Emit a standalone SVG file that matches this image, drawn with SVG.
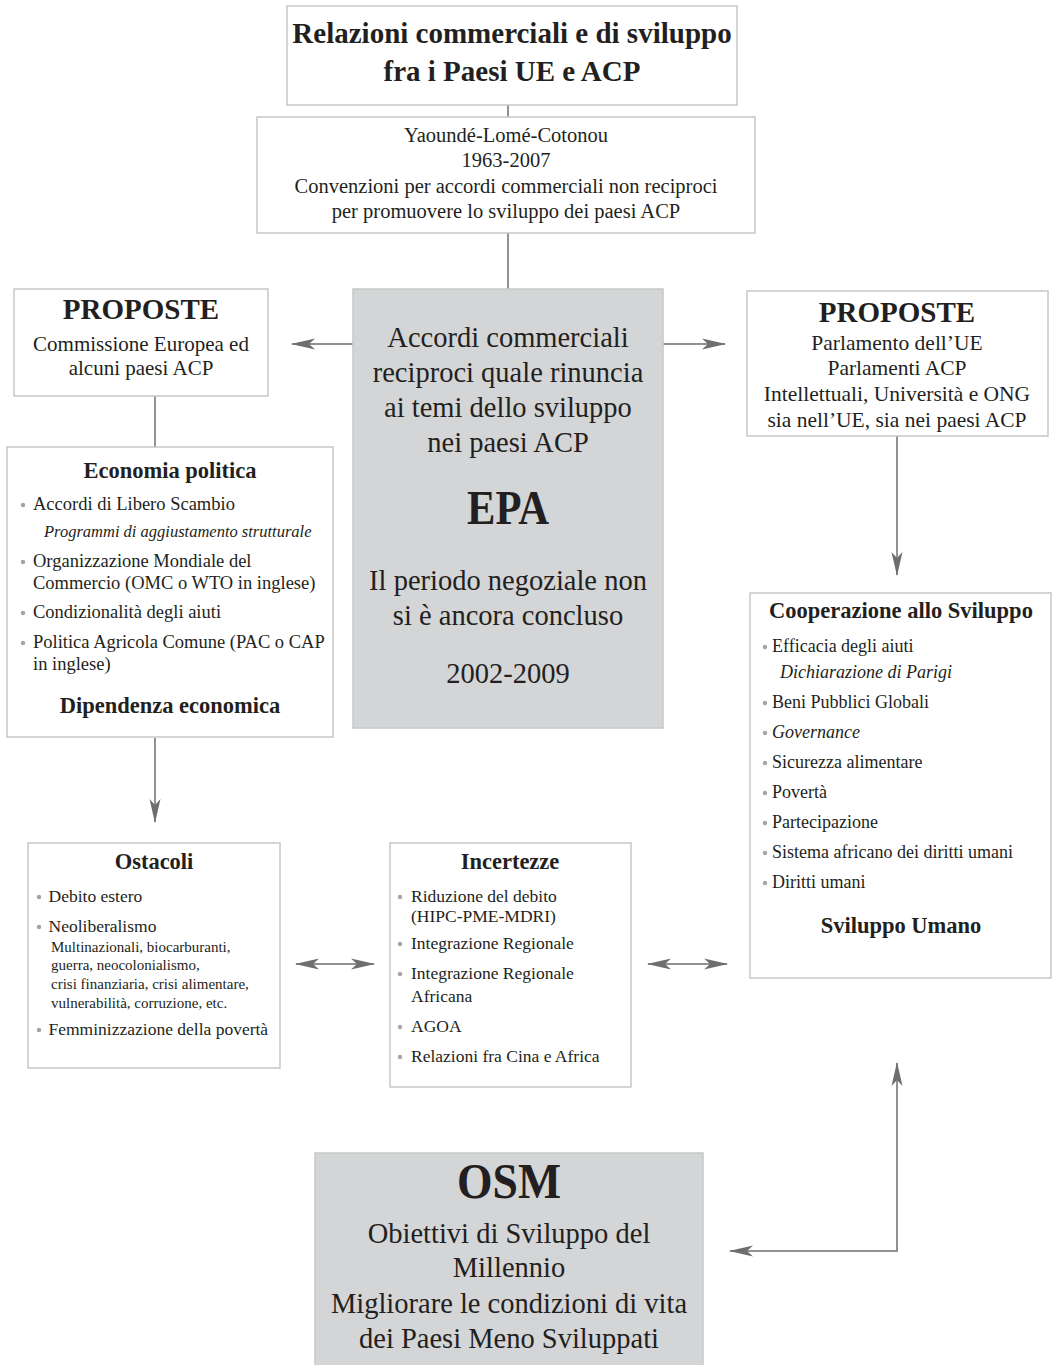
<svg xmlns="http://www.w3.org/2000/svg" width="1054" height="1365" viewBox="0 0 1054 1365">
<style>
text { font-family: "Liberation Serif", "Times New Roman", serif; fill: #231f20; }
.box { fill: #ffffff; stroke: #c6c7c8; stroke-width: 1.5; }
.gbox { fill: #d4d5d7; stroke: #c6c7c8; stroke-width: 1.5; }
.c { text-anchor: middle; }
.b { font-weight: bold; }
.i { font-style: italic; }
.t29 { font-size: 29px; }
.t28 { font-size: 28.5px; }
.t21 { font-size: 21px; }
.t21b { font-size: 21.5px; }
.t20 { font-size: 20.5px; }
.h { font-size: 22.5px; font-weight: bold; text-anchor: middle; }
.li { font-size: 18px; }
.le { font-size: 18.5px; }
.pi { font-size: 16.5px; font-style: italic; }
.li2 { font-size: 17.5px; }
.sm { font-size: 15px; }
.conn { stroke: #6d6e70; stroke-width: 1.5; fill: none; }
.dot { fill: #a3a4a6; }
</style>
<defs>
<marker id="ah" markerUnits="userSpaceOnUse" markerWidth="24" markerHeight="12" viewBox="0 0 24 12" refX="23" refY="6" orient="auto-start-reverse">
<path d="M0,0.5 L24,6 L0,11.5 L6,6 z" fill="#6d6e70"/>
</marker>
</defs>

<g id="connectors">
<path class="conn" d="M508,105 V117"/>
<path class="conn" d="M508,233 V290"/>
<path class="conn" d="M353,344 H292" marker-end="url(#ah)"/>
<path class="conn" d="M663,344 H725" marker-end="url(#ah)"/>
<path class="conn" d="M155,396 V447"/>
<path class="conn" d="M897,436 V575" marker-end="url(#ah)"/>
<path class="conn" d="M155,738 V822" marker-end="url(#ah)"/>
<path class="conn" d="M296,964 H374" marker-start="url(#ah)" marker-end="url(#ah)"/>
<path class="conn" d="M648,964 H727" marker-start="url(#ah)" marker-end="url(#ah)"/>
<path class="conn" d="M897,1063 V1251 H730" marker-start="url(#ah)" marker-end="url(#ah)"/>
</g>

<g id="titolo">
<rect class="box" x="287" y="6" width="450" height="99"/>
<text class="c b t29" x="512" y="43">Relazioni commerciali e di sviluppo</text>
<text class="c b t29" x="512" y="81">fra i Paesi UE e ACP</text>
</g>

<g id="convenzioni">
<rect class="box" x="257" y="117" width="498" height="116"/>
<text class="c t20" x="506" y="142">Yaoundé-Lomé-Cotonou</text>
<text class="c t20" x="506" y="167">1963-2007</text>
<text class="c t20" x="506" y="193">Convenzioni per accordi commerciali non reciproci</text>
<text class="c t20" x="506" y="218">per promuovere lo sviluppo dei paesi ACP</text>
</g>

<g id="proposte-sx">
<rect class="box" x="14" y="289" width="254" height="107"/>
<text class="c b t29" x="141" y="319">PROPOSTE</text>
<text class="c t21" x="141" y="351">Commissione Europea ed</text>
<text class="c t21" x="141" y="375">alcuni paesi ACP</text>
</g>

<g id="epa">
<rect class="gbox" x="353" y="289" width="310" height="439"/>
<text class="c t28" x="508" y="347">Accordi commerciali</text>
<text class="c t28" x="508" y="382">reciproci quale rinuncia</text>
<text class="c t28" x="508" y="417">ai temi dello sviluppo</text>
<text class="c t28" x="508" y="452">nei paesi ACP</text>
<text class="c b" x="508" y="524" font-size="48" textLength="82" lengthAdjust="spacingAndGlyphs">EPA</text>
<text class="c t28" x="508" y="590">Il periodo negoziale non</text>
<text class="c t28" x="508" y="625">si è ancora concluso</text>
<text class="c t28" x="508" y="683">2002-2009</text>
</g>

<g id="proposte-dx">
<rect class="box" x="747" y="291" width="301" height="145"/>
<text class="c b t29" x="897" y="322">PROPOSTE</text>
<text class="c t21b" x="897" y="350">Parlamento dell’UE</text>
<text class="c t21b" x="897" y="375">Parlamenti ACP</text>
<text class="c t21b" x="897" y="401">Intellettuali, Università e ONG</text>
<text class="c t21b" x="897" y="427">sia nell’UE, sia nei paesi ACP</text>
</g>

<g id="economia">
<rect class="box" x="7" y="447" width="326" height="290"/>
<text class="h" x="170" y="478">Economia politica</text>
<circle class="dot" cx="23" cy="505" r="2.2"/>
<text class="le" x="33" y="510">Accordi di Libero Scambio</text>
<text class="pi" x="44" y="537">Programmi di aggiustamento strutturale</text>
<circle class="dot" cx="23" cy="562" r="2.2"/>
<text class="le" x="33" y="567">Organizzazione Mondiale del</text>
<text class="le" x="33" y="589">Commercio (OMC o WTO in inglese)</text>
<circle class="dot" cx="23" cy="613" r="2.2"/>
<text class="le" x="33" y="618">Condizionalità degli aiuti</text>
<circle class="dot" cx="23" cy="643" r="2.2"/>
<text class="le" x="33" y="648">Politica Agricola Comune (PAC o CAP</text>
<text class="le" x="33" y="670">in inglese)</text>
<text class="h" x="170" y="713">Dipendenza economica</text>
</g>

<g id="cooperazione">
<rect class="box" x="750" y="593" width="301" height="385"/>
<text class="h" x="901" y="618">Cooperazione allo Sviluppo</text>
<circle class="dot" cx="765" cy="647" r="2.2"/>
<text class="li" x="772" y="652">Efficacia degli aiuti</text>
<text class="li i" x="780" y="678">Dichiarazione di Parigi</text>
<circle class="dot" cx="765" cy="703" r="2.2"/>
<text class="li" x="772" y="708">Beni Pubblici Globali</text>
<circle class="dot" cx="765" cy="733" r="2.2"/>
<text class="li i" x="772" y="738">Governance</text>
<circle class="dot" cx="765" cy="763" r="2.2"/>
<text class="li" x="772" y="768">Sicurezza alimentare</text>
<circle class="dot" cx="765" cy="793" r="2.2"/>
<text class="li" x="772" y="798">Povertà</text>
<circle class="dot" cx="765" cy="823" r="2.2"/>
<text class="li" x="772" y="828">Partecipazione</text>
<circle class="dot" cx="765" cy="853" r="2.2"/>
<text class="li" x="772" y="858">Sistema africano dei diritti umani</text>
<circle class="dot" cx="765" cy="883" r="2.2"/>
<text class="li" x="772" y="888">Diritti umani</text>
<text class="h" x="901" y="933">Sviluppo Umano</text>
</g>

<g id="ostacoli">
<rect class="box" x="28" y="843" width="252" height="225"/>
<text class="h" x="154" y="869">Ostacoli</text>
<circle class="dot" cx="39" cy="897" r="2.2"/>
<text class="li2" x="48.5" y="902">Debito estero</text>
<circle class="dot" cx="39" cy="927" r="2.2"/>
<text class="li2" x="48.5" y="932">Neoliberalismo</text>
<text class="sm" x="51" y="952">Multinazionali, biocarburanti,</text>
<text class="sm" x="51" y="970">guerra, neocolonialismo,</text>
<text class="sm" x="51" y="989">crisi finanziaria, crisi alimentare,</text>
<text class="sm" x="51" y="1008">vulnerabilità, corruzione, etc.</text>
<circle class="dot" cx="39" cy="1030" r="2.2"/>
<text class="li2" x="48.5" y="1035">Femminizzazione della povertà</text>
</g>

<g id="incertezze">
<rect class="box" x="390" y="843" width="241" height="244"/>
<text class="h" x="510" y="869">Incertezze</text>
<circle class="dot" cx="400" cy="897" r="2.2"/>
<text class="li2" x="411" y="902">Riduzione del debito</text>
<text class="li2" x="411" y="922">(HIPC-PME-MDRI)</text>
<circle class="dot" cx="400" cy="944" r="2.2"/>
<text class="li2" x="411" y="949">Integrazione Regionale</text>
<circle class="dot" cx="400" cy="974" r="2.2"/>
<text class="li2" x="411" y="979">Integrazione Regionale</text>
<text class="li2" x="411" y="1002">Africana</text>
<circle class="dot" cx="400" cy="1027" r="2.2"/>
<text class="li2" x="411" y="1032">AGOA</text>
<circle class="dot" cx="400" cy="1057" r="2.2"/>
<text class="li2" x="411" y="1062">Relazioni fra Cina e Africa</text>
</g>

<g id="osm">
<rect class="gbox" x="315" y="1153" width="388" height="220"/>
<text class="c b" x="509" y="1198" font-size="50" textLength="104" lengthAdjust="spacingAndGlyphs">OSM</text>
<text class="c t28" x="509" y="1243">Obiettivi di Sviluppo del</text>
<text class="c t28" x="509" y="1277">Millennio</text>
<text class="c t28" x="509" y="1313">Migliorare le condizioni di vita</text>
<text class="c t28" x="509" y="1348">dei Paesi Meno Sviluppati</text>
</g>
</svg>
